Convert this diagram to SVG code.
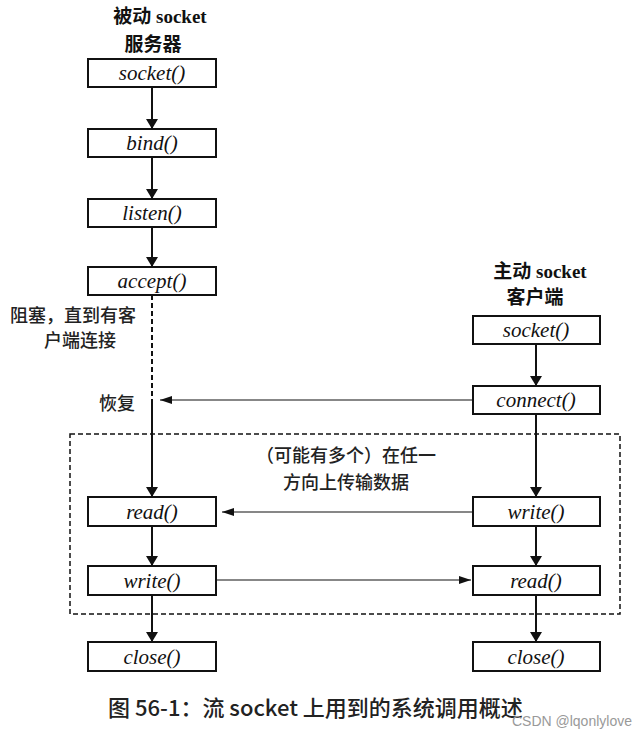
<svg xmlns="http://www.w3.org/2000/svg" width="643" height="737" viewBox="0 0 643 737">
<style>
.box{fill:#fff;stroke:#111;stroke-width:2}
.fn{font-family:"Liberation Serif",serif;font-style:italic;font-size:21px;fill:#111;text-anchor:middle}
.hd{font-family:"Liberation Serif","Noto Sans CJK SC",serif;font-weight:bold;font-size:19px;fill:#111;text-anchor:middle}
.cn{font-family:"Noto Sans CJK SC",sans-serif;font-size:18px;font-weight:500;fill:#222}
.ln{stroke:#111;stroke-width:2;fill:none}
.th{stroke:#111;stroke-width:1.2;fill:none}
</style>
<defs>
<marker id="big" viewBox="0 0 10 12" refX="10" refY="6" markerWidth="10" markerHeight="12" markerUnits="userSpaceOnUse" orient="auto"><path d="M0,0 L10,6 L0,12 Z" fill="#111"/></marker>
<marker id="sm" viewBox="0 0 12 8" refX="12" refY="4" markerWidth="12" markerHeight="8" markerUnits="userSpaceOnUse" orient="auto"><path d="M0,0 L12,4 L0,8 Z" fill="#111"/></marker>
</defs>
<rect x="0" y="0" width="643" height="737" fill="#fff"/>
<text class="hd" x="160" y="23">被动 socket</text>
<text class="hd" x="153" y="51">服务器</text>
<text class="hd" x="540" y="278">主动 socket</text>
<text class="hd" x="535" y="304">客户端</text>
<text class="cn" x="10" y="322">阻塞，直到有客</text>
<text class="cn" x="44" y="347">户端连接</text>
<text class="cn" x="99" y="410">恢复</text>
<rect x="70" y="434" width="550" height="180" fill="none" stroke="#111" stroke-width="1.5" stroke-dasharray="5,3"/>
<text class="cn" x="346" y="462" text-anchor="middle">（可能有多个）在任一</text>
<text class="cn" x="346" y="489" text-anchor="middle">方向上传输数据</text>
<g id="connectors">
<line class="ln" x1="152" y1="87" x2="152" y2="129" marker-end="url(#big)"/>
<line class="ln" x1="152" y1="157" x2="152" y2="199" marker-end="url(#big)"/>
<line class="ln" x1="152" y1="227" x2="152" y2="267" marker-end="url(#big)"/>
<line class="ln" x1="152" y1="295" x2="152" y2="400" stroke-dasharray="5,3"/>
<line class="ln" x1="152" y1="400" x2="152" y2="497" marker-end="url(#big)"/>
<line class="ln" x1="152" y1="526" x2="152" y2="566" marker-end="url(#big)"/>
<line class="ln" x1="152" y1="595" x2="152" y2="642" marker-end="url(#big)"/>
<line class="ln" x1="536" y1="344" x2="536" y2="386" marker-end="url(#big)"/>
<line class="ln" x1="536" y1="414" x2="536" y2="497" marker-end="url(#big)"/>
<line class="ln" x1="536" y1="526" x2="536" y2="566" marker-end="url(#big)"/>
<line class="ln" x1="536" y1="595" x2="536" y2="642" marker-end="url(#big)"/>
<line class="th" x1="473" y1="400" x2="160" y2="400" marker-end="url(#sm)"/>
<line class="th" x1="473" y1="512" x2="222" y2="512" marker-end="url(#sm)"/>
<line class="th" x1="216" y1="580" x2="471" y2="580" marker-end="url(#sm)"/>
</g>
<g id="s_socket"><rect class="box" x="88" y="59" width="128" height="28"/><text class="fn" x="152" y="80">socket()</text></g>
<g id="s_bind"><rect class="box" x="88" y="129" width="128" height="28"/><text class="fn" x="152" y="150">bind()</text></g>
<g id="s_listen"><rect class="box" x="88" y="199" width="128" height="28"/><text class="fn" x="152" y="220">listen()</text></g>
<g id="s_accept"><rect class="box" x="88" y="267" width="128" height="28"/><text class="fn" x="152" y="288">accept()</text></g>
<g id="s_read"><rect class="box" x="88" y="497" width="128" height="29"/><text class="fn" x="152" y="519">read()</text></g>
<g id="s_write"><rect class="box" x="88" y="566" width="128" height="29"/><text class="fn" x="152" y="588">write()</text></g>
<g id="s_close"><rect class="box" x="88" y="642" width="128" height="29"/><text class="fn" x="152" y="664">close()</text></g>
<g id="c_socket"><rect class="box" x="473" y="316" width="127" height="28"/><text class="fn" x="536" y="337">socket()</text></g>
<g id="c_connect"><rect class="box" x="473" y="386" width="127" height="28"/><text class="fn" x="536" y="407">connect()</text></g>
<g id="c_write"><rect class="box" x="473" y="497" width="127" height="29"/><text class="fn" x="536" y="519">write()</text></g>
<g id="c_read"><rect class="box" x="473" y="566" width="127" height="29"/><text class="fn" x="536" y="588">read()</text></g>
<g id="c_close"><rect class="box" x="473" y="642" width="127" height="29"/><text class="fn" x="536" y="664">close()</text></g>
<text x="108" y="716" font-family="'Noto Sans CJK SC',sans-serif" font-size="22" font-weight="500" fill="#222">图 56-1：流 socket 上用到的系统调用概述</text>
<text x="632" y="726" text-anchor="end" font-family="'Liberation Sans',sans-serif" font-size="14" fill="#999">CSDN @lqonlylove</text>
</svg>
